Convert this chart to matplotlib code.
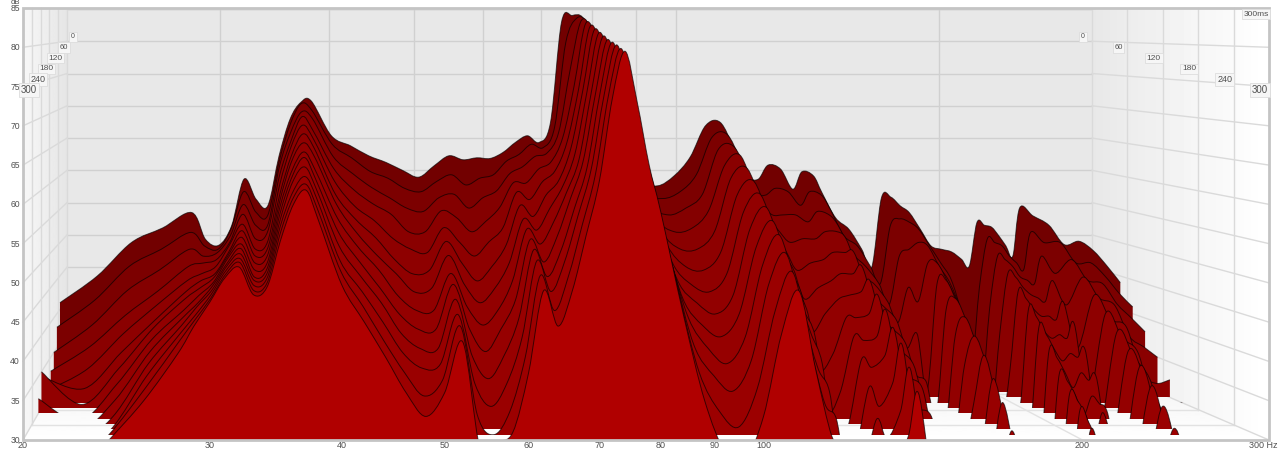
import numpy as np
import matplotlib
matplotlib.use("Agg")
import matplotlib.pyplot as plt
from matplotlib.path import Path
from matplotlib.patches import PathPatch, Polygon, Rectangle

plt.rcParams['font.family'] = ['Liberation Sans', 'DejaVu Sans']

freqs = [20, 22, 24, 26, 28, 29, 30, 31, 32, 33, 34, 35, 36, 37, 38, 40, 42, 44, 46, 48,
         50, 52, 54, 56, 58, 60, 62, 64, 66, 68, 70, 72, 74, 76, 78, 80, 84, 88, 92, 96,
         100, 104, 108, 112, 116, 119, 122, 126, 130, 133, 137, 140, 145, 150, 155, 159, 163, 167, 171, 175,
         180, 185, 190, 195, 200, 204, 208, 212, 216, 220, 224, 228, 232, 240, 250, 260, 270, 280, 290, 300]

# levels in dB, one list per time slice
slice_048 = [41,45,50,52.2,54.5,50.5,49.6,52.5,59.5,56.5,55.5,63,68.5,71,71.2,66,64.5,63,62,60.8,59.8,61.5,63,62.4,62.7,62.6,63.5,65,66,65,68,83,84,83.7,80,76,66,59.5,58.5,60,62.8,67.5,68,
             64,60,59.5,61.6,61,58,60.6,60,57.5,53.7,52,49,46.3,56.7,56.8,55.5,54.5,52,49.5,49,48.6,47.5,46.5,53,52.6,52.3,51,49.5,48,55.2,54,52.6,49.7,50.2,48.8,46.5,44]
slice_069 = [38,42,47,49.5,52,50,49.5,52.5,58,55,54.5,62.5,68,71,70,65,63,61,60,58.5,58,59.5,60.5,59,60,60.5,62.5,63.5,65,64.5,67.5,80,83.6,83,79,75,64.5,58,57,58,60.5,66,66.5,
             62.5,58,57.5,58.5,58,56,58,57.5,55.5,51.5,50,47,44.5,53,54,53.5,52.5,50,47.5,45,40,33,44,51,50.5,50,48.5,47.5,46.5,52,50.5,50.5,47.5,47.5,45.5,43,41]
slice_090 = [35,39,44,47,50,49,49.5,52,56.5,53.5,53.5,62,67,70,69,63.5,61,59,57.5,56,55.5,57.5,58,56,57.5,58.5,61,62,63.5,64,67,76,83.2,82,78,74,63,56.5,55,56,58,64.5,65,
             61,56.5,55,55,55,54,55.5,55,53.5,49.5,47.5,45,42,49,50,51,50.5,47.5,45,40.5,30,29,41.5,49,48.5,47.5,46,45.5,45,49,46.5,48.5,45.5,45,42,40,38]
slice_111 = [33,36.5,41,44.5,48,48.5,49,51.5,55.5,52,53,61,66,69.5,67.5,62,59,57,55.5,53,53,56,55,53,54.5,56.5,60,60,62,63,66.5,74,82.8,81,77,72.5,62,55,53,53.5,56,62.5,64,
             59,55,53,51.5,52,52,53,53,52,47,45.5,43,40,45,43,48.5,48.5,45.5,42,36,27,27,38.5,47,46.5,45,44,43.5,43,46,42.5,46.5,43.5,42.5,38,36.5,35]
slice_132 = [31,34,39,43,46.5,47.5,48.5,51.5,54.5,51,52,60,65.5,68.5,66.5,60.5,57,55,52.5,51,50.5,54,52,50,52,54,59,58,60.5,62,66,73.5,82.4,80,75.5,71,60.5,53.5,51,51,53.5,61,62.5,
             57.5,53,50.5,48,49,49.5,50.5,50.5,50.5,45,43,41,37,39,31,46,46.5,43,39.5,33,25,26,34,45,44,42.5,41.5,41.5,41,43.5,37,44.5,41,40,33.5,32,32.5]
slice_153 = [33.5,32,37,41.5,45.5,47,48,51,54,50.5,51.5,59,64.5,67.5,65.5,59,55.5,53,50,48,48.5,52.5,49.5,47,49,52,57.5,56,59,61,65.5,73.5,82,79,74,70,59,52,49,48.5,51,59,61,
             56,51,48.5,44.5,46,47,48,48,49,42.5,40.5,38.5,34,33,28.5,43,44.5,41,37,30,24,25,29.5,43,42,40,39,39.5,39,41,30.5,42.5,39,37,29.5,29.5,30]
slice_174 = [35,30.5,35.5,41,45,46.5,48,51,53.5,50,51,58.5,64,66.5,64.5,58,54,51,48.5,46,46.5,51,47,44.5,46.5,50,56,54.5,57.5,60.5,65,73.5,81.6,78,73,68.5,58,50,47,46,48.5,57,59.5,
             54,49,46,40.5,43,45,45.5,46,47.5,40,38,36,30.5,28.5,27,40,42.5,38.5,34,27,23,24,27,41,40,38,36.5,37.5,37,38,27.5,40.5,37,34,27,27,27.5]
slice_195 = [32,29,34,40,44,46,47.8,51,53,49.5,50.5,58,63,65.5,63,56.5,52.5,49.5,46,44,44,49,44.5,42,44,48,55,53,56,60,64.5,73.5,81.2,77,71.5,67,56.5,48,45,43.5,46,55,58,
             52,47,43.5,36,38,43,43,43.5,46,37.5,35,33.5,27,26,26,36.5,40.5,36.5,30.5,25,22,23,25,38.5,37.5,35.5,33.5,35.5,34.5,35,25.5,38.5,34.5,30.5,25,25,25]
slice_216 = [29,28,32.5,39,43.5,45.5,47.8,50.8,52.8,49,50.2,57.5,62.5,65,62,55,51,47.5,44,42,42,48,42,39,42,46,54,51,54.5,59.5,64.5,73.5,80.8,76,70,65.5,55,46,42.5,41,44,53,56.5,
             50,44.5,41,31,33.5,41,40.5,41,44.5,34.5,31.5,30.5,25,24,25,32,38.5,33,27,23,21,22,24,36,35,33,30.5,33,32,31,24,37,31,28,23,23,22]
slice_237 = [27,27,31,38,43,45.5,47.7,50.8,52.5,49,50,57,62,64,61,53.5,49.5,46,42,40,40,46.5,39,36,39,44,53,49.5,53,58.5,64,73.5,80.5,75.5,69,64,53,44,40,38,41.5,51,55,
             48,42,38,28,29.5,38.5,37.5,39,42.5,30.5,27.5,27,23,22,24,28,36,30,25,21,20,21,23,34,33,31,28,31.5,29,28,23,35,28,26,21,21,20]
slice_258 = [25,26,30,37,42.5,45,47.6,50.7,52.3,48.8,49.8,56.5,61,63,60,52,48,44,40,38,38.5,45,36,33,36,42,52,48,52,58,64,73.5,80.2,75,68,62.5,51,41,37,35,39,49,53,
             45,38,35,26,27,35.5,33,36,41,27,25,25,21,21,22,26,33.5,27,23,20,19,20,22,32.5,31,28.5,26,29.5,27,26,22,33,26,24,20,20,18]
slice_279 = [23,25,30,36,42,44.8,47.5,50.6,52.2,48.6,49.6,56,60.5,62.3,59,51,46.5,42,38,35,37,44,32.5,30,33,40,50.5,46,50.5,57,63.5,73.5,79.8,74,66.5,61,48.5,38,33,31,36,46,51,
             42,34,32,24,25,32,29.5,33,38.5,25,23,23,20,20,21,24,30.5,25,21,19,18,19,21,30.5,28.5,26,24,27,25,24,21,30.8,24,22,19,19,16]
slice_300 = [20,24,29.7,35,41,44.5,47.5,50.6,52,48.5,49.5,55.4,60,61.8,58,49.7,45,40.5,36,33,36,42.5,29,29.8,31,38.5,49,44.5,49,56,63,73.5,79.5,73,65,59,46,35,28.5,27.5,33,43.5,49,
             39,30.5,29,22,23,28.5,27,30.5,36,23,21,21,19,19,20,22,27,23,20,18,17,18,20,28,26,24,22,25,23,22,20,28.5,22,20,18,18,14]

slice_times = [48, 69, 90, 111, 132, 153, 174, 195, 216, 237, 258, 279, 300]
slices = [slice_048, slice_069, slice_090, slice_111, slice_132, slice_153, slice_174,
          slice_195, slice_216, slice_237, slice_258, slice_279, slice_300]
# only the last slice is the bright solid red, the rest read darker because of the dense lines
fill_colors = ['#720000', '#7c0000', '#840000', '#8a0000', '#8e0000', '#900000', '#920000',
               '#940000', '#960000', '#980000', '#9a0000', '#9c0000', '#b00000']

freq_ticks = [30, 40, 50, 60, 70, 80, 90, 100, 200]
freq_labels = [20, 30, 40, 50, 60, 70, 80, 90, 100, 200]
db_ticks = [35, 40, 45, 50, 55, 60, 65, 70, 75, 80]
db_labels = [30, 35, 40, 45, 50, 55, 60, 65, 70, 75, 80, 85]
time_ticks = [60, 120, 180, 240]
time_labels = [0, 60, 120, 180, 240, 300]
time_sizes = [5, 5.5, 6, 6, 6.5, 7]


# the picture is a perspective box, t=0 at the back wall and t=300 at the front
def xpos(f, t):
    u = np.asarray(t) / 300
    return 67 - 44 * u + (1025 + 221 * u) * np.log(np.asarray(f) / 20) / np.log(15)


def ypos(db, t):
    u = np.asarray(t) / 300
    top = 9 - u
    return top + (85 - np.asarray(db)) / 55 * (364 + 76 * u - top)


def smooth_path(x, y):
    # catmull-rom handles so the slices do not look like polygons
    p = np.column_stack([x, y])
    prev = np.vstack([p[0], p[:-1]])
    nxt = np.vstack([p[1:], p[-1]])
    verts = [p[0]]
    codes = [Path.MOVETO]
    for i in range(len(p) - 1):
        verts += [p[i] + (nxt[i] - prev[i]) / 6, p[i + 1] - (nxt[i + 1] - prev[i + 1]) / 6, p[i + 1]]
        codes += [Path.CURVE4] * 3
    return verts, codes


fig = plt.figure(figsize=(12.8, 4.51), dpi=100)
ax = fig.add_axes([0, 0, 1, 1])
ax.axis('off')

# walls
ax.add_patch(Polygon([(67, 9), (1092, 9), (1092, 364), (67, 364)], fc='#e8e8e8', ec='none', zorder=1))
ax.add_patch(Polygon([(23, 8), (1269, 8), (1092, 11), (67, 11)], fc='#dedede', ec='none', zorder=1))
left_wall = Polygon([(23, 8), (67, 9), (67, 364), (23, 440)], transform=ax.transData)
right_wall = Polygon([(1092, 9), (1269, 8), (1269, 440), (1092, 364)], transform=ax.transData)
floor = Polygon([(67, 364), (1092, 364), (1269, 440), (23, 440)], transform=ax.transData)
im = ax.imshow(np.linspace(0.97, 0.9, 50)[None, :], extent=(23, 67, 440, 8), cmap='gray', vmin=0, vmax=1, aspect='auto', zorder=1)
im.set_clip_path(left_wall)
im = ax.imshow(np.linspace(0.91, 1.0, 50)[None, :], extent=(1092, 1269, 440, 8), cmap='gray', vmin=0, vmax=1, aspect='auto', zorder=1)
im.set_clip_path(right_wall)
im = ax.imshow(np.linspace(0.94, 1.0, 50)[:, None], extent=(23, 1269, 440, 364), cmap='gray', vmin=0, vmax=1, aspect='auto', zorder=1)
im.set_clip_path(floor)

grid = '#d0d0d0'
wall_grid = '#dadada'
for db in db_ticks:
    ax.plot([xpos(20, 0), xpos(300, 0)], [ypos(db, 0), ypos(db, 0)], color=grid, lw=1, zorder=2)
    ax.plot([xpos(20, 0), xpos(20, 300)], [ypos(db, 0), ypos(db, 300)], color=wall_grid, lw=1, zorder=2)
    ax.plot([xpos(300, 0), xpos(300, 300)], [ypos(db, 0), ypos(db, 300)], color=wall_grid, lw=1, zorder=2)
for f in freq_ticks:
    ax.plot([xpos(f, 0), xpos(f, 0)], [ypos(85, 0), ypos(30, 0)], color=grid, lw=1, zorder=2)
    ax.plot([xpos(f, 0), xpos(f, 300)], [ypos(30, 0), ypos(30, 300)], color='#e2e2e2', lw=1, zorder=2)
for t in [0] + time_ticks:
    for f in [20, 300]:
        ax.plot([xpos(f, t), xpos(f, t)], [ypos(85, t), ypos(30, t)], color=wall_grid, lw=1, zorder=2)
    ax.plot([xpos(20, t), xpos(300, t)], [ypos(30, t), ypos(30, t)], color='#e2e2e2', lw=1, zorder=2)
ax.plot([xpos(20, 0), xpos(20, 300)], [ypos(30, 0), ypos(30, 300)], color=wall_grid, lw=1, zorder=2)
ax.plot([xpos(300, 0), xpos(300, 300)], [ypos(30, 0), ypos(30, 300)], color=wall_grid, lw=1, zorder=2)

# slices back to front, anything under 30 dB goes through the floor
for n, (t, levels) in enumerate(zip(slice_times, slices)):
    x = xpos(freqs, t)
    y = ypos(levels, t)
    verts, codes = smooth_path(x, y)
    floor_y = ypos(30, t)
    clip = Rectangle((0, 0), 1280, floor_y, transform=ax.transData)
    fill = PathPatch(Path(verts + [(x[-1], 500), (x[0], 500), (x[0], y[0])],
                          codes + [Path.LINETO, Path.LINETO, Path.LINETO]),
                     fc=fill_colors[n], ec='none', zorder=3 + n)
    ax.add_patch(fill)
    fill.set_clip_path(clip)
    line = PathPatch(Path(verts, codes), fc='none', ec='black', lw=0.7, alpha=0.65, zorder=3 + n)
    ax.add_patch(line)
    line.set_clip_path(clip)

# frame
ax.add_patch(Rectangle((23, 8), 1246, 432, fc='none', ec='#c4c4c4', lw=2, zorder=30))

# labels
txt = '#505050'
for db in db_labels:
    ax.text(20, ypos(db, 300) + 0.5, str(db), ha='right', va='center', fontsize=6.2, color=txt, zorder=31)
ax.text(20, 2, 'dB', ha='right', va='center', fontsize=5.6, color=txt, zorder=31)
for f in freq_labels:
    ax.text(xpos(f, 300), 446, str(f), ha='center', va='center', fontsize=6.5, color=txt, zorder=31)
ax.text(1263, 446, '300 Hz', ha='center', va='center', fontsize=6.5, color=txt, zorder=31)
box = dict(fc='#f6f6f6', ec='#dddddd', lw=0.6, pad=1.2)
for t, size in zip(time_labels, time_sizes):
    ax.text(xpos(20, t) + 6, 37 + 0.177 * t, str(t), ha='center', va='center',
            fontsize=size, color=txt, bbox=box, zorder=31)
    ax.text(xpos(300, t) - 9, 37 + 0.177 * t, str(t), ha='center', va='center',
            fontsize=size, color=txt, bbox=box, zorder=31)
ax.text(1256, 14, '300ms', ha='center', va='center', fontsize=6, color=txt, bbox=box, zorder=31)

ax.set_xlim(0, 1280)
ax.set_ylim(451, 0)
fig.savefig('out.png', dpi=100)
